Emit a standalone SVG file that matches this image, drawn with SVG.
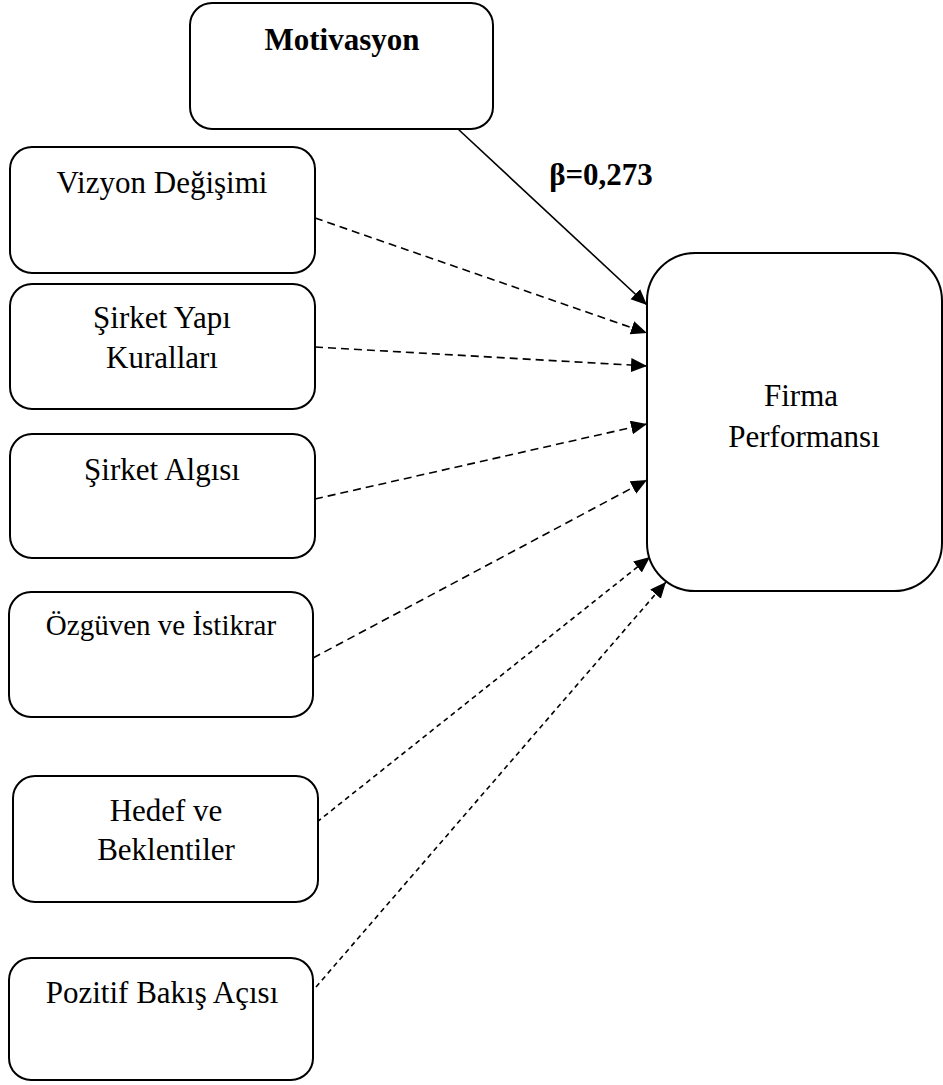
<svg xmlns="http://www.w3.org/2000/svg" width="943" height="1085" viewBox="0 0 943 1085">
<style>
.box{fill:#fff;stroke:#000;stroke-width:2}
.t{font-family:"Liberation Serif","Times New Roman",serif;font-size:31px;fill:#000;text-anchor:middle}
.b{font-weight:bold}
.c{stroke:#000;stroke-width:1.6;fill:none}
.d{stroke-dasharray:8 5}
.f{stroke-dasharray:5 4}
</style>
<defs>
<marker id="ah" markerUnits="userSpaceOnUse" markerWidth="17" markerHeight="15" refX="16" refY="7" orient="auto">
<path d="M0,0 L16,7 L0,14 z" fill="#000"/>
</marker>
</defs>
<rect width="943" height="1085" fill="#fff"/>
<g id="connectors">
<line class="c" x1="458" y1="129" x2="647" y2="305" marker-end="url(#ah)"/>
<line class="c d" x1="315" y1="218" x2="647" y2="333" marker-end="url(#ah)"/>
<line class="c d" x1="315" y1="347" x2="647" y2="366" marker-end="url(#ah)"/>
<line class="c d" x1="315" y1="499" x2="647" y2="424" marker-end="url(#ah)"/>
<line class="c d" x1="313" y1="658" x2="647" y2="480" marker-end="url(#ah)"/>
<line class="c f" x1="317" y1="822" x2="650" y2="557" marker-end="url(#ah)"/>
<line class="c f" x1="316" y1="987" x2="666" y2="582" marker-end="url(#ah)"/>
<text class="t b" x="601" y="185">β=0,273</text>
</g>
<g id="motivasyon">
<rect class="box" x="190" y="3" width="303" height="126" rx="22"/>
<text class="t b" x="342" y="50">Motivasyon</text>
</g>
<g id="vizyon">
<rect class="box" x="10" y="147" width="305" height="126" rx="22"/>
<text class="t" x="162" y="193">Vizyon Değişimi</text>
</g>
<g id="yapi">
<rect class="box" x="10" y="284" width="305" height="125" rx="22"/>
<text class="t" x="162" y="328">Şirket Yapı</text>
<text class="t" x="162" y="368">Kuralları</text>
</g>
<g id="algisi">
<rect class="box" x="10" y="434" width="305" height="124" rx="22"/>
<text class="t" x="162" y="480">Şirket Algısı</text>
</g>
<g id="ozguven">
<rect class="box" x="9" y="592" width="304" height="125" rx="22"/>
<text class="t" x="161" y="635" style="font-size:29px">Özgüven ve İstikrar</text>
</g>
<g id="hedef">
<rect class="box" x="13" y="776" width="305" height="126" rx="22"/>
<text class="t" x="166" y="821">Hedef ve</text>
<text class="t" x="166" y="860">Beklentiler</text>
</g>
<g id="pozitif">
<rect class="box" x="9" y="958" width="304" height="122" rx="22"/>
<text class="t" x="162" y="1003">Pozitif Bakış Açısı</text>
</g>
<g id="firma">
<rect class="box" x="647" y="253" width="295" height="338" rx="48"/>
<text class="t" x="801" y="406">Firma</text>
<text class="t" x="804" y="447">Performansı</text>
</g>
</svg>
